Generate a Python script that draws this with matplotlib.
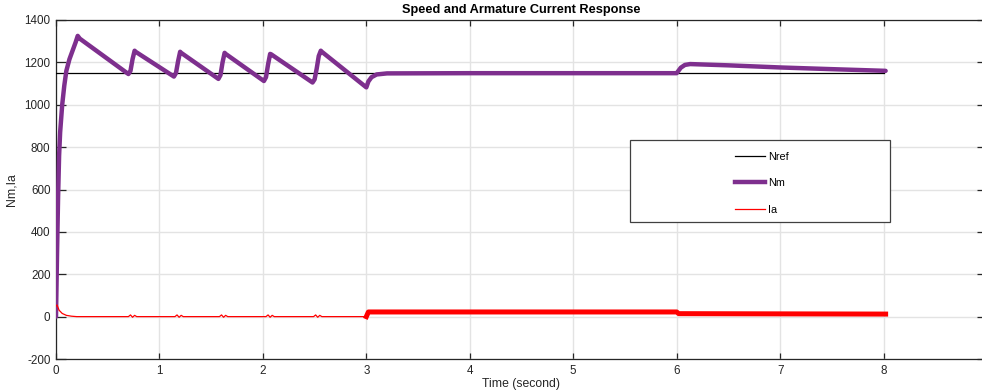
import numpy as np
import matplotlib
matplotlib.use("Agg")
import matplotlib.pyplot as plt
from matplotlib.patches import Rectangle
from matplotlib.lines import Line2D

plt.rcParams['font.family'] = ['Liberation Sans', 'DejaVu Sans']
plt.rcParams['axes.unicode_minus'] = False

# ---- data ----
nref_t = [0.0, 8.0]
nref_v = [1150, 1150]

nm_t = [0.0, 0.01, 0.02, 0.03, 0.04, 0.06, 0.08, 0.10, 0.13, 0.16, 0.19, 0.21, 0.23,
        0.70, 0.72, 0.74, 0.76, 0.77,
        1.14, 1.16, 1.18, 1.20, 1.21,
        1.57, 1.59, 1.61, 1.63, 1.64,
        2.01, 2.03, 2.05, 2.07, 2.08,
        2.48, 2.50, 2.52, 2.54, 2.56, 2.57,
        3.00, 3.02, 3.05, 3.10, 3.20, 4.0, 5.0, 6.00,
        6.04, 6.08, 6.13, 6.5, 7.0, 7.5, 8.02]
nm_v = [0, 300, 560, 760, 870, 1000, 1090, 1160, 1215, 1255, 1295, 1325, 1312,
        1145, 1160, 1215, 1255, 1250,
        1133, 1150, 1205, 1250, 1245,
        1122, 1140, 1200, 1245, 1240,
        1112, 1130, 1190, 1240, 1238,
        1105, 1120, 1170, 1230, 1255, 1250,
        1082, 1110, 1130, 1143, 1148, 1149, 1149, 1149,
        1175, 1188, 1192, 1186, 1176, 1168, 1160]

ia_t = [0.0, 0.01, 0.03, 0.06, 0.10, 0.15, 0.20,
        0.70, 0.72, 0.74, 0.76, 0.78,
        1.15, 1.17, 1.19, 1.21, 1.23,
        1.58, 1.60, 1.62, 1.64, 1.66,
        2.03, 2.05, 2.07, 2.09, 2.11,
        2.49, 2.51, 2.53, 2.55, 2.57, 3.00]
ia_v = [50, 55, 30, 15, 6, 2, 0,
        0, 8, -3, 6, 0,
        0, 8, -3, 6, 0,
        0, 8, -3, 6, 0,
        0, 8, -3, 6, 0,
        0, 8, -3, 6, 0, 0]
ia_hi_t = [3.00, 3.02, 4.0, 5.0, 6.0, 6.02, 7.0, 8.02]
ia_hi_v = [0, 22, 22, 22, 22, 14, 13, 12]

xticks = [0, 1, 2, 3, 4, 5, 6, 7, 8]
yticks = [-200, 0, 200, 400, 600, 800, 1000, 1200, 1400]

purple = '#7E2F8E'
red = '#FF0000'

W = 931
fig = plt.figure(figsize=(9.82, 3.91), dpi=100)
ax = fig.add_axes([56/982, 32/391, W/982, 339/391])

ax.grid(True, color='#e3e3e3', linewidth=1.0)
ax.set_axisbelow(True)

ax.plot(nref_t, nref_v, color='black', linewidth=0.9, zorder=3)
ax.plot(nm_t, nm_v, color=purple, linewidth=3.2, solid_capstyle='round',
        solid_joinstyle='round', zorder=4)
ax.plot(ia_t, ia_v, color=red, linewidth=0.9, zorder=5)
ax.plot(ia_hi_t, ia_hi_v, color=red, linewidth=3.6, zorder=5)

ax.set_xlim(0, 9)
ax.set_ylim(-200, 1400)
ax.set_xticks(xticks)
ax.set_yticks(yticks)
ax.tick_params(axis='both', direction='in', top=True, right=True,
               labelsize=8.4, labelcolor='#262626', color='#262626', width=0.9)
ax.tick_params(axis='x', length=4.5, pad=4)
ax.tick_params(axis='y', length=7, pad=4)
for s in ax.spines.values():
    s.set_color('#262626')
    s.set_linewidth(0.9)

ax.set_xlabel('Time (second)', fontsize=8.8, color='#262626', labelpad=1)
ax.set_ylabel('Nm,Ia', fontsize=8.8, color='#262626', labelpad=5)
ax.set_title('Speed and Armature Current Response', fontsize=9.2,
             fontweight='bold', pad=5)

# legend box
ax.add_patch(Rectangle(((630-56)/W, (359-222)/339), 260/W, 82/339,
                       transform=ax.transAxes, facecolor='white',
                       edgecolor='#404040', linewidth=0.9, zorder=6))
handles = [Line2D([], [], color='black', linewidth=0.9),
           Line2D([], [], color=purple, linewidth=3.2),
           Line2D([], [], color=red, linewidth=0.9)]
leg = ax.legend(handles, ['Nref', 'Nm', 'Ia'], loc='upper left',
                bbox_to_anchor=((735-56)/W, (359-152)/339),
                frameon=False, borderpad=0, borderaxespad=0,
                handlelength=2.8, handletextpad=0.25, labelspacing=1.5,
                prop={'size': 7.8})
leg.set_zorder(7)

fig.savefig('out.png', dpi=100)
